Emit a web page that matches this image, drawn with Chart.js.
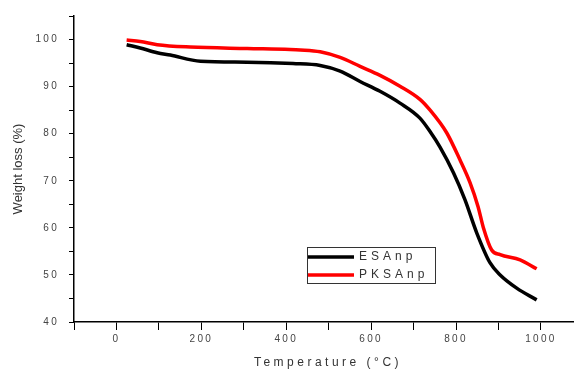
<!DOCTYPE html>
<html>
<head>
<meta charset="utf-8">
<script src="https://cdn.jsdelivr.net/npm/chart.js@4.4.1/dist/chart.umd.min.js"></script>
<style>
  html, body { margin: 0; padding: 0; background: #fff; }
  #wrap { width: 574px; height: 371px; }
</style>
</head>
<body>
<div id="wrap"><canvas id="tga"></canvas></div>
<script>
// TGA curves
const esaTemp = [24, 56, 96, 127, 198, 308, 416, 480, 527, 574, 621, 668, 715, 740, 762, 794, 821, 849, 880, 904, 943, 990];
const esaLoss = [98.9, 98.2, 97.2, 96.7, 95.4, 95.2, 94.9, 94.5, 93.3, 91.1, 89.0, 86.5, 83.3, 80.3, 77.2, 71.7, 66.0, 58.9, 52.6, 50.0, 47.2, 44.7];
const pksTemp = [24, 56, 96, 174, 308, 409, 433, 480, 527, 574, 621, 668, 715, 739, 778, 809, 833, 852, 864, 884, 904, 951, 990];
const pksLoss = [99.9, 99.6, 98.9, 98.4, 98.1, 97.9, 97.8, 97.4, 96.2, 94.3, 92.4, 90.1, 87.3, 85.0, 80.2, 74.5, 69.6, 64.5, 60.2, 55.3, 54.3, 53.2, 51.3];
const seriesNames = ['ESAnp', 'PKSAnp'];
const seriesColors = ['#000000', '#ff0000'];
const xTitle = 'Temperature (°C)';
const yTitle = 'Weight loss (%)';

function pairs(xs, ys) {
  return xs.map((x, i) => ({ x: x, y: ys[i] }));
}

const textColor = '#444';

// spacing, titles and the framed legend
const originLook = {
  id: 'originLook',
  beforeDraw(chart) {
    chart.ctx.letterSpacing = '2.3px';
  },
  afterDraw(chart) {
    const ctx = chart.ctx;
    const a = chart.chartArea;
    ctx.save();
    ctx.fillStyle = '#333';
    ctx.font = '12px "Liberation Sans", Arial, sans-serif';
    ctx.letterSpacing = '3.5px';
    ctx.textAlign = 'center';
    ctx.textBaseline = 'middle';
    ctx.fillText(xTitle, (a.left + a.right) / 2 + 4, 363);

    ctx.letterSpacing = '0px';
    ctx.font = '13px "Liberation Sans", Arial, sans-serif';
    ctx.translate(18, (a.top + a.bottom) / 2);
    ctx.rotate(-Math.PI / 2);
    ctx.fillText(yTitle, 0, 0);
    ctx.restore();

    // legend box
    ctx.save();
    ctx.letterSpacing = '0px';
    ctx.strokeStyle = '#333';
    ctx.lineWidth = 1;
    ctx.strokeRect(307.5, 247.5, 128, 36);
    ctx.font = '12px "Liberation Sans", Arial, sans-serif';
    ctx.textBaseline = 'middle';
    ctx.textAlign = 'left';
    chart.data.datasets.forEach((ds, i) => {
      const yy = 257 + i * 18;
      ctx.strokeStyle = ds.borderColor;
      ctx.lineWidth = 3.5;
      ctx.beginPath();
      ctx.moveTo(308, yy);
      ctx.lineTo(354, yy);
      ctx.stroke();
      ctx.fillStyle = '#333';
      ctx.letterSpacing = '4px';
      ctx.fillText(ds.label, 359, yy);
      ctx.letterSpacing = '0px';
    });
    ctx.restore();
  }
};

const ctx = document.getElementById('tga').getContext('2d');
const tgaChart = new Chart(ctx, {
  type: 'line',
  data: {
    datasets: [
      {
        label: seriesNames[0],
        data: pairs(esaTemp, esaLoss),
        borderColor: seriesColors[0],
        backgroundColor: seriesColors[0],
        borderWidth: 3.5,
        pointRadius: 0,
        cubicInterpolationMode: 'monotone'
      },
      {
        label: seriesNames[1],
        data: pairs(pksTemp, pksLoss),
        borderColor: seriesColors[1],
        backgroundColor: seriesColors[1],
        borderWidth: 3.5,
        pointRadius: 0,
        cubicInterpolationMode: 'monotone'
      }
    ]
  },
  options: {
    responsive: true,
    maintainAspectRatio: false,
    animation: false,
    layout: { padding: { top: 16, right: 0, left: 0, bottom: 0 } },
    plugins: {
      legend: { display: false },
      tooltip: { enabled: false }
    },
    scales: {
      x: {
        type: 'linear',
        min: -100,
        max: 1078,
        afterFit(scale) { scale.height = 49; },
        border: { color: '#000', width: 1.5 },
        grid: {
          display: true,
          drawOnChartArea: false,
          drawTicks: true,
          tickLength: 8,
          color: '#000',
          tickWidth: 1
        },
        ticks: {
          stepSize: 100,
          includeBounds: false,
          maxRotation: 0,
          autoSkip: false,
          padding: 3,
          color: textColor,
          font: { size: 10, family: '"Liberation Sans", Arial, sans-serif' },
          callback: (v) => (v % 100 !== 0 ? null : (v % 200 === 0 ? String(v) : ''))
        }
      },
      y: {
        min: 40,
        max: 105,
        afterFit(scale) { scale.width = 74; },
        border: { color: '#000', width: 1.5 },
        grid: {
          display: true,
          drawOnChartArea: false,
          drawTicks: true,
          tickLength: 5,
          color: '#000',
          tickWidth: 1
        },
        ticks: {
          stepSize: 5,
          autoSkip: false,
          padding: 10,
          color: textColor,
          font: { size: 10, family: '"Liberation Sans", Arial, sans-serif' },
          callback: (v) => (v % 10 === 0 ? String(v) : '')
        }
      }
    }
  },
  plugins: [originLook]
});
</script>
</body>
</html>
